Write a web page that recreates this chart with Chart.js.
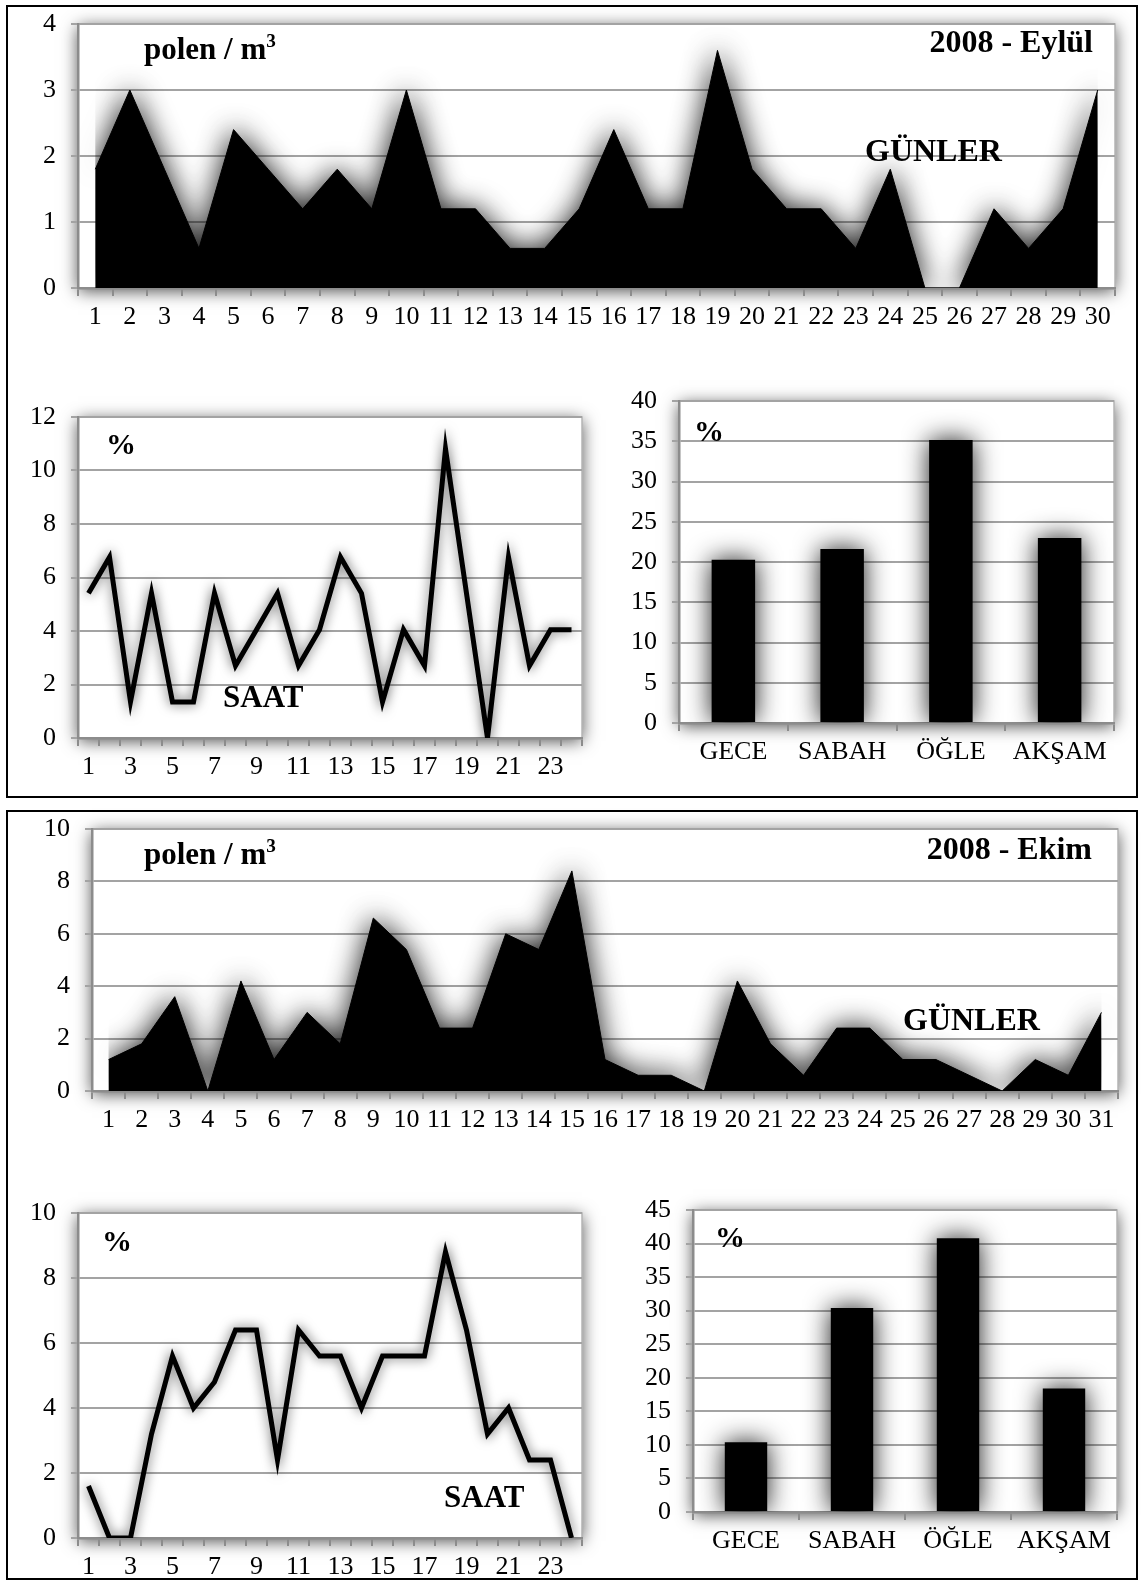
<!DOCTYPE html>
<html lang="tr">
<head>
<meta charset="utf-8">
<title>Polen 2008 - Eylül / Ekim</title>
<script src="https://cdn.jsdelivr.net/npm/chart.js@4.4.1/dist/chart.umd.min.js"></script>
<style>
  html, body { margin: 0; padding: 0; background: #fff; }
  body { position: relative; width: 1141px; height: 1582px; overflow: hidden;
         font-family: "Liberation Serif", "Times New Roman", serif; }
  .box { position: absolute; border: 2px solid #000; box-sizing: border-box; }
  canvas { position: absolute; z-index: 1; }
  .lbl { position: absolute; z-index: 2; font-weight: bold; line-height: 1; white-space: nowrap; color: #000; }
  .lbl sup { font-size: 0.62em; vertical-align: 0.6em; line-height: 0; }
</style>
</head>
<body>
<div class="box" style="left:6px; top:5px; width:1132px; height:793px;"></div>
<div class="box" style="left:6px; top:810px; width:1132px; height:770px;"></div>

<div class="lbl" style="left:144px; top:33px; font-size:31px;">polen / m<sup>3</sup></div>
<div class="lbl" style="right:48px; top:25px; font-size:32px;">2008 - Eylül</div>
<div class="lbl" style="left:865px; top:134px; font-size:32px;">GÜNLER</div>
<div class="lbl" style="left:106px; top:429px; font-size:30px;">%</div>
<div class="lbl" style="left:223px; top:681px; font-size:31px;">SAAT</div>
<div class="lbl" style="left:694px; top:416px; font-size:30px;">%</div>

<div class="lbl" style="left:144px; top:838px; font-size:31px;">polen / m<sup>3</sup></div>
<div class="lbl" style="right:49px; top:832px; font-size:32px;">2008 - Ekim</div>
<div class="lbl" style="left:903px; top:1003px; font-size:32px;">GÜNLER</div>
<div class="lbl" style="left:102px; top:1226px; font-size:30px;">%</div>
<div class="lbl" style="left:444px; top:1481px; font-size:31px;">SAAT</div>
<div class="lbl" style="left:715px; top:1222px; font-size:30px;">%</div>

<script>
// daily pollen counts (polen / m³)
const septDays = ['1','2','3','4','5','6','7','8','9','10','11','12','13','14','15',
                  '16','17','18','19','20','21','22','23','24','25','26','27','28','29','30'];
const septDaily = [1.8, 3.0, 1.8, 0.6, 2.4, 1.8, 1.2, 1.8, 1.2, 3.0, 1.2, 1.2, 0.6, 0.6, 1.2,
                   2.4, 1.2, 1.2, 3.6, 1.8, 1.2, 1.2, 0.6, 1.8, 0, 0, 1.2, 0.6, 1.2, 3.0];
const octDays = ['1','2','3','4','5','6','7','8','9','10','11','12','13','14','15','16',
                 '17','18','19','20','21','22','23','24','25','26','27','28','29','30','31'];
const octDaily = [1.2, 1.8, 3.6, 0, 4.2, 1.2, 3.0, 1.8, 6.6, 5.4, 2.4, 2.4, 6.0, 5.4, 8.4, 1.2,
                  0.6, 0.6, 0, 4.2, 1.8, 0.6, 2.4, 2.4, 1.2, 1.2, 0.6, 0, 1.2, 0.6, 3.0];

// hourly share (%)
const hours = ['1','2','3','4','5','6','7','8','9','10','11','12',
               '13','14','15','16','17','18','19','20','21','22','23','24'];
const hourTicks = ['1','','3','','5','','7','','9','','11','',
                   '13','','15','','17','','19','','21','','23',''];
const septHourly = [5.41, 6.76, 1.35, 5.41, 1.35, 1.35, 5.41, 2.7, 4.05, 5.41, 2.7, 4.05,
                    6.76, 5.41, 1.35, 4.05, 2.7, 10.81, 5.41, 0, 6.76, 2.7, 4.05, 4.05];
const octHourly = [1.6, 0, 0, 3.2, 5.6, 4.0, 4.8, 6.4, 6.4, 2.4, 6.4, 5.6,
                   5.6, 4.0, 5.6, 5.6, 5.6, 8.8, 6.4, 3.2, 4.0, 2.4, 2.4, 0];

// share by part of day (%)
const periods = ['GECE', 'SABAH', 'ÖĞLE', 'AKŞAM'];
const septPeriods = [20.27, 21.62, 35.14, 22.97];
const octPeriods = [10.4, 30.4, 40.8, 18.4];

const FONT = '"Liberation Serif", "Times New Roman", serif';
const AXIS = '#8c8c8c';
const GRID = '#a3a3a3';

// white plot area with a soft drop shadow and thin frame
const plotFrame = {
  id: 'plotFrame',
  beforeDraw(chart) {
    const { ctx, chartArea: a } = chart;
    ctx.save();
    ctx.shadowColor = 'rgba(0,0,0,0.7)';
    ctx.shadowBlur = 16;
    ctx.shadowOffsetY = 3;
    ctx.fillStyle = '#fff';
    ctx.fillRect(a.left, a.top, a.width, a.height);
    ctx.restore();
    ctx.save();
    ctx.strokeStyle = '#b5b5b5';
    ctx.lineWidth = 1.5;
    ctx.strokeRect(a.left, a.top, a.width, a.height);
    ctx.restore();
  }
};

// blurred black halo behind bars, lines and areas
const markShadow = {
  id: 'markShadow',
  defaults: { color: 'rgba(0,0,0,0.9)', blur: 24 },
  beforeDatasetsDraw(chart, args, opts) {
    const ctx = chart.ctx;
    ctx.save();
    ctx.shadowColor = opts.color;
    ctx.shadowBlur = opts.blur;
    ctx.shadowOffsetX = 0;
    ctx.shadowOffsetY = 0;
  },
  afterDatasetsDraw(chart) {
    chart.ctx.restore();
  }
};

function drawChart(area, type, labels, dataset, yMax, yStep, opts = {}) {
  const yW = opts.yW || 75;
  const padT = 36, padR = 26, xH = 50;
  const cv = document.createElement('canvas');
  cv.width = area.right - area.left + yW + padR;
  cv.height = area.bottom - area.top + padT + xH;
  cv.style.left = (area.left - yW) + 'px';
  cv.style.top = (area.top - padT) + 'px';
  document.body.appendChild(cv);

  const tickFont = { family: FONT, size: 26 };
  return new Chart(cv.getContext('2d'), {
    type: type,
    data: { labels: labels, datasets: [dataset] },
    options: {
      responsive: false,
      animation: false,
      events: [],
      layout: { padding: { top: padT, right: padR, left: 0, bottom: 0 } },
      plugins: {
        legend: { display: false },
        tooltip: { enabled: false },
        markShadow: opts.shadow || {}
      },
      scales: {
        x: {
          type: 'category',
          offset: true,
          grid: { offset: true, drawOnChartArea: false, drawTicks: true, tickLength: 8, color: AXIS, lineWidth: 2 },
          border: { display: true, color: AXIS, width: 2.5 },
          ticks: {
            autoSkip: false, maxRotation: 0, minRotation: 0, padding: 6, color: '#000', font: tickFont,
            callback: opts.tickLabels ? (v, i) => opts.tickLabels[i] : function (v) { return this.getLabelForValue(v); }
          },
          afterFit: s => { s.height = xH; }
        },
        y: {
          min: 0,
          max: yMax,
          ticks: { stepSize: yStep, autoSkip: false, padding: 15, color: '#000', font: tickFont },
          grid: { color: GRID, lineWidth: 2, drawTicks: true, tickLength: 7 },
          border: { display: true, color: AXIS, width: 2.5 },
          afterFit: s => { s.width = yW; }
        }
      }
    },
    plugins: [plotFrame, markShadow]
  });
}

const areaSet = data => ({
  data: data, fill: 'origin', backgroundColor: '#000', borderColor: '#000',
  borderWidth: 1, pointRadius: 0, tension: 0
});
const lineSet = data => ({
  data: data, fill: false, borderColor: '#000', borderWidth: 5,
  borderJoinStyle: 'miter', borderCapStyle: 'butt', pointRadius: 0, tension: 0
});
const barSet = data => ({
  data: data, backgroundColor: '#000', borderWidth: 0,
  barPercentage: 0.4, categoryPercentage: 1
});

// 2008 - Eylül
drawChart({ left: 78, top: 24, right: 1115, bottom: 288 }, 'line', septDays, areaSet(septDaily), 4, 1,
  { shadow: { blur: 28 } });
drawChart({ left: 78, top: 417, right: 582, bottom: 738 }, 'line', hours, lineSet(septHourly), 12, 2,
  { tickLabels: hourTicks, shadow: { blur: 12, color: 'rgba(0,0,0,0.65)' } });
drawChart({ left: 679, top: 401, right: 1114, bottom: 723 }, 'bar', periods, barSet(septPeriods), 40, 5,
  { shadow: { blur: 26 } });

// 2008 - Ekim
drawChart({ left: 92, top: 829, right: 1118, bottom: 1091 }, 'line', octDays, areaSet(octDaily), 10, 2,
  { yW: 85, shadow: { blur: 28 } });
drawChart({ left: 78, top: 1213, right: 582, bottom: 1538 }, 'line', hours, lineSet(octHourly), 10, 2,
  { tickLabels: hourTicks, shadow: { blur: 12, color: 'rgba(0,0,0,0.65)' } });
drawChart({ left: 693, top: 1210, right: 1117, bottom: 1512 }, 'bar', periods, barSet(octPeriods), 45, 5,
  { yW: 85, shadow: { blur: 26 } });
</script>
</body>
</html>
